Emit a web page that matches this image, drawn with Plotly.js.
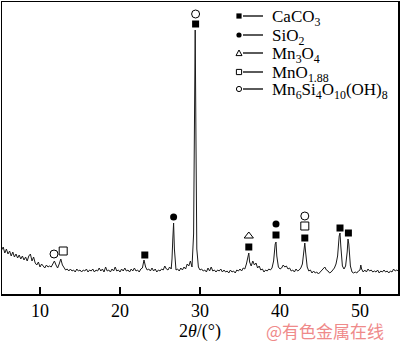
<!DOCTYPE html>
<html>
<head>
<meta charset="utf-8">
<script src="https://cdn.plot.ly/plotly-3.0.1.min.js"></script>
<style>html,body{margin:0;padding:0;background:#fff;}#chart{width:400px;height:342px;}</style>
</head>
<body>
<div id="chart"></div>
<script>
// XRD pattern: 2θ (degrees) and intensity (arbitrary units)
const twoTheta = [
5.2,5.4,5.6,5.8,6.0,6.2,6.4,6.6,6.8,7.0,7.2,7.4,7.6,7.8,8.0,8.2,8.4,8.6,8.8,9.0,9.2,9.4,9.6,9.8,
10.0,10.2,10.4,10.6,10.8,11.0,11.2,11.4,11.6,11.8,12.0,12.2,12.4,12.6,12.8,13.0,13.2,13.4,13.6,13.8,
14.0,14.2,14.4,14.6,14.8,15.0,15.2,15.4,15.6,15.8,16.0,16.2,16.4,16.6,16.8,17.0,17.2,17.4,17.6,17.8,
18.0,18.2,18.4,18.6,18.8,19.0,19.2,19.4,19.6,19.8,20.0,20.2,20.4,20.6,20.8,21.0,21.2,21.4,21.6,21.8,
22.0,22.2,22.4,22.6,22.8,22.9,23.0,23.2,23.4,23.6,23.8,24.0,24.2,24.4,24.6,24.8,25.0,25.2,25.4,25.6,25.8,
26.0,26.2,26.4,26.5,26.6,26.7,26.8,26.9,27.0,27.2,27.4,27.6,27.8,28.0,28.2,28.4,28.6,28.8,29.0,29.2,29.3,29.4,29.5,29.6,29.8,
30.0,30.2,30.4,30.6,30.8,31.0,31.2,31.4,31.6,31.8,32.0,32.2,32.4,32.6,32.8,33.0,33.2,33.4,33.6,33.8,
34.0,34.2,34.4,34.6,34.8,35.0,35.2,35.4,35.6,35.8,36.0,36.1,36.2,36.4,36.6,36.8,37.0,37.2,37.4,37.6,37.8,
38.0,38.2,38.4,38.6,38.8,39.0,39.2,39.4,39.5,39.6,39.8,40.0,40.2,40.4,40.6,40.8,41.0,41.2,41.4,41.6,41.8,
42.0,42.2,42.4,42.6,42.8,43.0,43.1,43.2,43.4,43.6,43.8,44.0,44.2,44.4,44.6,44.8,45.0,45.2,45.4,45.6,45.8,
46.0,46.2,46.4,46.6,46.8,47.0,47.2,47.4,47.5,47.6,47.8,48.0,48.2,48.4,48.5,48.6,48.8,49.0,49.2,49.4,49.6,49.8,
50.0,50.1,50.2,50.4,50.6,50.8,51.0,51.2,51.4,51.6,51.8,52.0,52.2,52.4,52.6,52.8,53.0,53.2,53.4,53.6,53.8,
54.0,54.2,54.4,54.6,54.8
];
const intensity = [
44,47,41,45,40,43,38,42,37,40,36,39,35,38,34,37,33,38,40,33,37,31,29,32,
27,30,28,26,29,27,28,27,30,33,29,26,30,35,29,26,24,25,23,25,
23,24,22,25,23,24,22,24,23,25,22,24,23,25,22,24,23,26,23,25,
22,27,23,24,22,25,23,27,23,24,22,25,23,26,23,24,22,25,23,26,
23,24,22,25,26,30,34,27,24,25,23,26,23,25,22,24,23,25,24,28,25,
24,27,25,35,55,71,45,27,24,25,23,26,24,27,25,30,28,33,27,60,190,264,150,45,27,
24,25,23,24,22,26,23,27,23,24,22,24,23,25,22,24,22,23,21,24,
22,23,21,24,23,25,23,26,25,30,38,41,32,28,33,29,31,26,28,24,25,
22,24,23,25,24,26,33,50,52,38,27,25,26,29,27,28,25,26,23,24,22,
25,23,24,26,30,45,51,42,27,23,24,21,23,21,22,20,22,23,25,27,24,
23,21,22,24,26,30,38,58,61,48,28,25,28,42,55,50,28,22,21,22,21,23,
24,29,25,22,24,22,25,23,24,22,23,22,24,21,23,22,24,22,23,21,23,
22,25,23,24,23
];

// Phase identification markers (2θ, marker height)
const caco3X = [23.1, 29.45, 36.1, 39.5, 43.1, 47.5, 48.55];
const caco3Y = [39, 270, 47, 59, 56, 66, 61];
const sio2X = [26.7, 39.5];
const sio2Y = [77, 70];
const mn3o4X = [36.1];
const mn3o4Y = [58];
const mno188X = [12.9, 43.1];
const mno188Y = [43, 68];
const mnsiX = [11.75, 29.45, 43.1];
const mnsiY = [40, 280, 78];

const legendLabels = ['CaCO<sub>3</sub>', 'SiO<sub>2</sub>', 'Mn<sub>3</sub>O<sub>4</sub>',
  'MnO<sub>1.88</sub>', 'Mn<sub>6</sub>Si<sub>4</sub>O<sub>10</sub>(OH)<sub>8</sub>'];
const xTicks = [10, 20, 30, 40, 50];

const serif = '"Liberation Serif", "Times New Roman", serif';
const W = 400, H = 342, mL = 2, mR = 2, mT = 2, mB = 48;
const pw = W - mL - mR, ph = H - mT - mB;
const fx = p => (p - mL) / pw;
const fy = p => (H - mB - p) / ph;

const traces = [
  {x: twoTheta, y: intensity, mode: 'lines', line: {color: '#1a1a1a', width: 1}, hoverinfo: 'skip'},
  {x: caco3X, y: caco3Y, mode: 'markers', marker: {symbol: 'square', size: 7, color: '#000'}},
  {x: sio2X, y: sio2Y, mode: 'markers', marker: {symbol: 'circle', size: 7, color: '#000'}},
  {x: mn3o4X, y: mn3o4Y, mode: 'markers', marker: {symbol: 'triangle-up-open', size: 8, color: '#000', line: {width: 1}}},
  {x: mno188X, y: mno188Y, mode: 'markers', marker: {symbol: 'square-open', size: 8, color: '#000', line: {width: 1}}},
  {x: mnsiX, y: mnsiY, mode: 'markers', marker: {symbol: 'circle-open', size: 8, color: '#000', line: {width: 1}}}
];

// custom legend
const rowsY = [16, 35, 53, 72, 89];
const symX = 239, lineX0 = 243, lineX1 = 263, textX = 270;
const shapes = [];
const annotations = [];
rowsY.forEach((ry, i) => {
  shapes.push({type: 'line', xref: 'paper', yref: 'paper', x0: fx(lineX0), x1: fx(lineX1), y0: fy(ry), y1: fy(ry), line: {color: '#000', width: 1.3}});
  annotations.push({xref: 'paper', yref: 'paper', x: fx(textX), y: fy(ry + 2), xanchor: 'left', yanchor: 'middle',
    text: legendLabels[i], showarrow: false, font: {family: serif, size: 17, color: '#000'}});
});
const s = 2.6;
const ax = fx(symX);
shapes.push({type: 'rect', xref: 'paper', yref: 'paper', xsizemode: 'pixel', ysizemode: 'pixel', xanchor: ax, yanchor: fy(rowsY[0]), x0: -s, x1: s, y0: -s, y1: s, fillcolor: '#000', line: {width: 0}});
shapes.push({type: 'circle', xref: 'paper', yref: 'paper', xsizemode: 'pixel', ysizemode: 'pixel', xanchor: ax, yanchor: fy(rowsY[1]), x0: -s, x1: s, y0: -s, y1: s, fillcolor: '#000', line: {width: 0}});
shapes.push({type: 'path', xref: 'paper', yref: 'paper', xsizemode: 'pixel', ysizemode: 'pixel', xanchor: ax, yanchor: fy(rowsY[2]), path: 'M -3 -2.6 L 3 -2.6 L 0 3 Z', line: {color: '#000', width: 1}});
shapes.push({type: 'rect', xref: 'paper', yref: 'paper', xsizemode: 'pixel', ysizemode: 'pixel', xanchor: ax, yanchor: fy(rowsY[3]), x0: -s, x1: s, y0: -s, y1: s, line: {color: '#000', width: 1}});
shapes.push({type: 'circle', xref: 'paper', yref: 'paper', xsizemode: 'pixel', ysizemode: 'pixel', xanchor: ax, yanchor: fy(rowsY[4]), x0: -s, x1: s, y0: -s, y1: s, line: {color: '#000', width: 1}});

// watermark
annotations.push({xref: 'paper', yref: 'paper', x: fx(325), y: fy(330), xanchor: 'center', yanchor: 'middle',
  text: '@有色金属在线', showarrow: false, font: {family: '"Noto Sans CJK SC"', size: 17, color: '#ef8a8a'}});

const layout = {
  width: W, height: H,
  margin: {l: mL, r: mR, t: mT, b: mB, pad: 0},
  paper_bgcolor: '#fff', plot_bgcolor: '#fff',
  showlegend: false,
  font: {family: serif, color: '#000', size: 18},
  xaxis: {
    range: [5.25, 54.75], tickvals: xTicks, ticktext: xTicks.map(String),
    ticks: 'inside', ticklen: 7, tickwidth: 1.3, tickcolor: '#000',
    showline: true, linecolor: '#000', linewidth: 1.5, mirror: true,
    showgrid: false, zeroline: false,
    tickfont: {family: serif, size: 18, color: '#000'},
    title: {text: '2<i>θ</i>/(°)', standoff: 2, font: {family: serif, size: 18, color: '#000'}}
  },
  yaxis: {
    range: [0, 292], showticklabels: false, ticks: '',
    showline: true, linecolor: '#000', linewidth: 1.5, mirror: true,
    showgrid: false, zeroline: false
  },
  shapes: shapes,
  annotations: annotations
};

Plotly.newPlot('chart', traces, layout, {staticPlot: true, displayModeBar: false});
</script>
</body>
</html>
